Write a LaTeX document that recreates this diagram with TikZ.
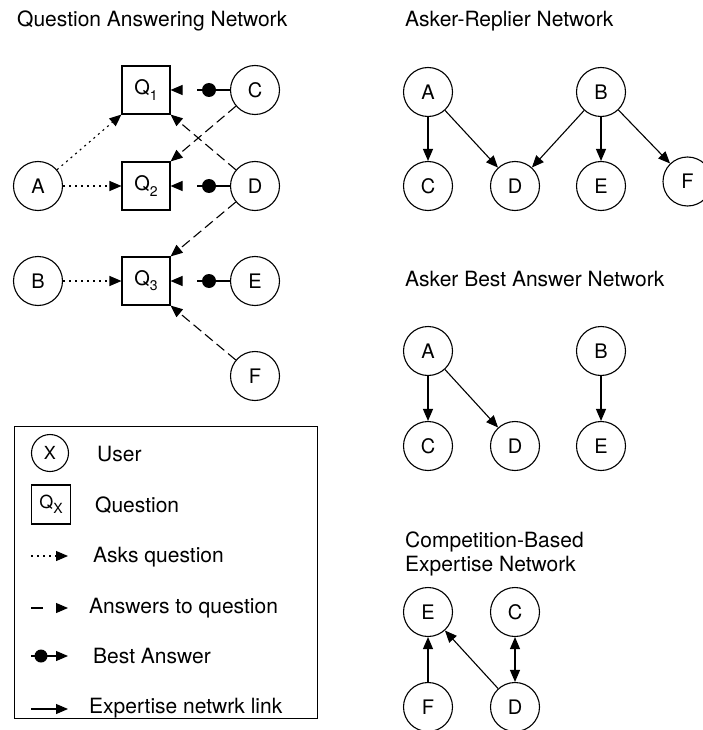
\documentclass[tikz,border=0pt]{standalone}
\usepackage{fontspec}
\setmainfont{TeX Gyre Heros}
\usetikzlibrary{arrows.meta}
\newcommand\qsub[1]{Q\raisebox{-0.5ex}{\fontsize{14}{14}\selectfont #1}}
\begin{document}
\begin{tikzpicture}[x=1pt,y=-1pt,
  user/.style={circle,draw,line width=1.1pt,minimum size=49pt,inner sep=0pt,font=\fontsize{20}{20}\selectfont},
  quest/.style={rectangle,draw,line width=1.1pt,minimum size=48pt,inner sep=0pt,font=\fontsize{20}{20}\selectfont},
  edge/.style={line width=1.1pt,-{Triangle[length=12pt,width=10pt]}},
  dedge/.style={line width=1.1pt,{Triangle[length=12pt,width=10pt]}-{Triangle[length=12pt,width=10pt]}},
  asks/.style={edge,dash pattern=on 2pt off 4pt},
  answers/.style={edge,dash pattern=on 10pt off 5pt},
  best/.style={edge,dash pattern=on 12pt off 20pt},
  bdot/.style={circle,fill,inner sep=0pt,minimum size=14pt},
  title/.style={anchor=base west,inner sep=0pt,font=\fontsize{21}{25}\selectfont},
  ]
\useasboundingbox (0,0) rectangle (703,730);

% ---------- Question Answering Network ----------
\node[title] (t1) at (17,27) {Question Answering Network};
\node[quest] (Q1) at (146,90) {\qsub{1}};
\node[quest] (Q2) at (146,186) {\qsub{2}};
\node[quest] (Q3) at (146,281) {\qsub{3}};
\node[user] (qA) at (38,186) {A};
\node[user] (qB) at (38,281) {B};
\node[user] (qC) at (255,90) {C};
\node[user] (qD) at (255,186) {D};
\node[user] (qE) at (255,281) {E};
\node[user] (qF) at (255,376) {F};

\draw[asks] (qA) -- (Q1.south west);
\draw[asks] (qA) -- (Q2);
\draw[asks] (qB) -- (Q3);

\draw[answers] (qC) -- (Q2.north east);
\draw[answers] (qD) -- (Q1.south east);
\draw[answers] (qD) -- (Q3.north east);
\draw[answers] (qF) -- (Q3.south east);

\node[bdot] (b1) at (209,90) {};
\node[bdot] (b2) at (209,186) {};
\node[bdot] (b3) at (209,281) {};
\draw[line width=1.1pt] (qC) -- (b1);
\draw[line width=1.1pt] (qD) -- (b2);
\draw[line width=1.1pt] (qE) -- (b3);
\draw[best] (b1.center) -- (Q1);
\draw[best] (b2.center) -- (Q2);
\draw[best] (b3.center) -- (Q3);

% ---------- Legend ----------
\node[draw,line width=1pt,minimum width=303pt,minimum height=292pt,inner sep=0pt,anchor=north west] (legend) at (14,426) {};
\node[user,minimum size=37pt,font=\fontsize{18}{18}\selectfont] (lX) at (50,453) {X};
\node[quest,minimum size=39pt,font=\fontsize{18}{18}\selectfont] (lQ) at (51,504.5) {\qsub{X}};
\coordinate (l1s) at (31,556); \coordinate (l1e) at (68,556);
\coordinate (l2s) at (31,608); \coordinate (l2e) at (68,608);
\coordinate (l3s) at (31,656); \coordinate (l3e) at (68,656);
\coordinate (l4s) at (31,709); \coordinate (l4e) at (68,709);
\draw[asks] (l1s) -- (l1e);
\draw[best] (l2s) -- (l2e);
\draw[edge] (l3s) -- (l3e);
\node[bdot,minimum size=13pt] (lb) at (41,656) {};
\draw[edge] (l4s) -- (l4e);
\node[title] (lt1) at (97,461) {User};
\node[title] (lt2) at (95,512) {Question};
\node[title] (lt3) at (93,562) {Asks question};
\node[title] (lt4) at (89,613.5) {Answers to question};
\node[title] (lt5) at (93,663) {Best Answer};
\node[title] (lt6) at (89,713) {Expertise netwrk link};

% ---------- Asker-Replier Network ----------
\node[title] (t2) at (405,27) {Asker-Replier Network};
\node[user] (rA) at (428,92) {A};
\node[user] (rB) at (601,92) {B};
\node[user] (rC) at (428,186) {C};
\node[user] (rD) at (515,186) {D};
\node[user] (rE) at (601,186) {E};
\node[user] (rF) at (687.5,181.5) {F};
\draw[edge] (rA) -- (rC);
\draw[edge] (rA) -- (rD);
\draw[edge] (rB) -- (rD);
\draw[edge] (rB) -- (rE);
\draw[edge] (rB) -- (rF);

% ---------- Asker Best Answer Network ----------
\node[title] (t3) at (405,286) {Asker Best Answer Network};
\node[user] (sA) at (428,351) {A};
\node[user] (sB) at (601,351) {B};
\node[user] (sC) at (428,446) {C};
\node[user] (sD) at (515,446) {D};
\node[user] (sE) at (601,446) {E};
\draw[edge] (sA) -- (sC);
\draw[edge] (sA) -- (sD);
\draw[edge] (sB) -- (sE);

% ---------- Competition-Based Expertise Network ----------
\node[title] (t4) at (405,547) {Competition-Based};
\node[title] (t5) at (405,571) {Expertise Network};
\node[user] (cE) at (428,612) {E};
\node[user] (cC) at (515,612) {C};
\node[user] (cF) at (428,707) {F};
\node[user] (cD) at (515,707) {D};
\draw[edge] (cF) -- (cE);
\draw[edge] (cD) -- (cE);
\draw[dedge] (cC) -- (cD);
\end{tikzpicture}
\end{document}
